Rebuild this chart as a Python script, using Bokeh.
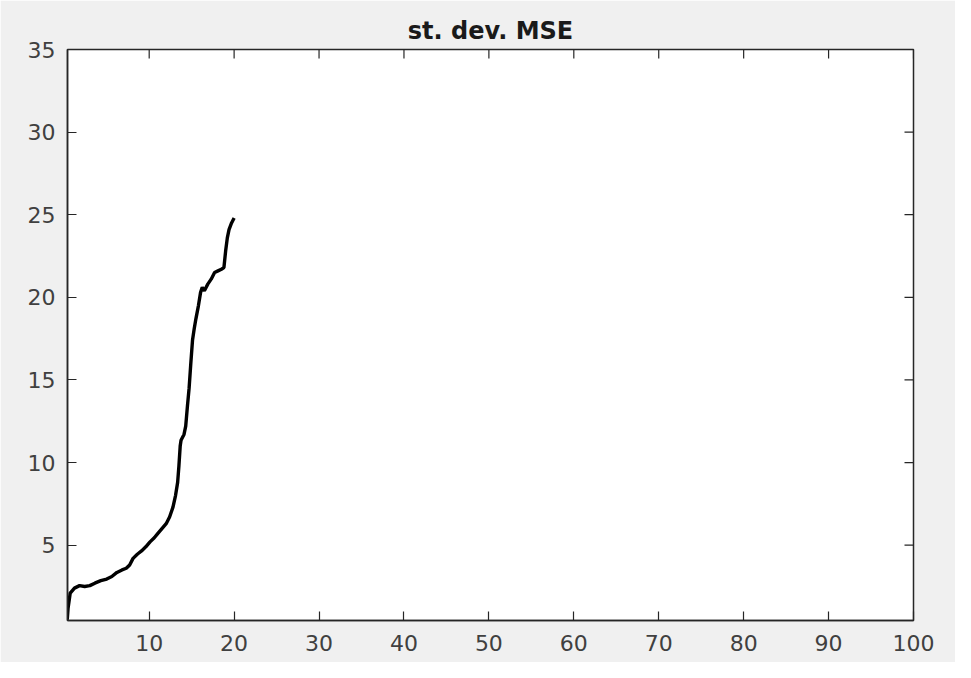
import math
from bokeh.plotting import figure
from bokeh.models import LinearAxis, FixedTicker, Range1d
from bokeh.embed import file_html
from bokeh.resources import INLINE

title_text = "st. dev. MSE"
x_vals = [0.35, 0.45, 0.7, 1.2, 1.8, 2.4, 3.0, 3.6, 4.3, 5.0, 5.6, 6.2, 6.8, 7.3, 7.7,
          8.1, 8.6, 9.1, 9.6, 10.1, 10.6, 11.0, 11.5, 12.0, 12.4, 12.8, 13.1, 13.35, 13.5,
          13.65, 13.75, 13.9, 14.1, 14.3, 14.5, 14.7, 14.9, 15.1, 15.3, 15.5, 15.8, 16.05,
          16.25, 16.5, 16.9, 17.3, 17.7, 18.1, 18.5, 18.8, 19.0, 19.2, 19.4, 19.7, 20.0]
y_vals = [0.5, 1.2, 2.1, 2.4, 2.55, 2.5, 2.55, 2.7, 2.85, 2.95, 3.1, 3.35, 3.5, 3.6, 3.8,
          4.2, 4.45, 4.65, 4.9, 5.2, 5.45, 5.7, 6.0, 6.3, 6.7, 7.3, 8.0, 8.8, 9.8,
          11.0, 11.35, 11.5, 11.7, 12.2, 13.4, 14.5, 16.0, 17.4, 18.1, 18.7, 19.5, 20.3,
          20.6, 20.4, 20.8, 21.1, 21.5, 21.6, 21.7, 21.8, 22.8, 23.6, 24.1, 24.5, 24.8]
x_ticks = [10, 20, 30, 40, 50, 60, 70, 80, 90, 100]
y_ticks = [5, 10, 15, 20, 25, 30, 35]
x_limits = (0.38, 100)
y_limits = (0.44, 35)

AX = "#262626"
p = figure(width=955, height=662, output_backend="svg", toolbar_location=None,
           x_range=Range1d(*x_limits), y_range=Range1d(*y_limits),
           x_axis_location=None, y_axis_location=None,
           min_border_left=67, min_border_right=42, min_border_top=49, min_border_bottom=42,
           background_fill_color="white", border_fill_color="#f0f0f0")
p.grid.visible = False
p.outline_line_color = AX
p.outline_line_width = 1.5

p.title.text = title_text
p.title.align = "center"
p.title.text_font = "DejaVu Sans"
p.title.text_font_size = "24px"
p.title.text_font_style = "bold"
p.title.text_color = "#1a1a1a"
p.title.standoff = 10

def mk_axis(ticks, standoff):
    ax = LinearAxis(ticker=FixedTicker(ticks=ticks))
    ax.axis_line_color = AX
    ax.axis_line_width = 1.5
    ax.major_tick_line_color = AX
    ax.major_tick_line_width = 1.2
    ax.major_tick_in = 9
    ax.major_tick_out = 0
    ax.minor_tick_line_color = None
    ax.major_label_text_font = "DejaVu Sans"
    ax.major_label_text_color = "#404040"
    ax.major_label_text_font_size = "22px"
    ax.major_label_standoff = standoff
    return ax

p.add_layout(mk_axis(x_ticks, 14), "below")
p.add_layout(mk_axis(y_ticks, 12), "left")

# inward ticks on the top and right edges of the box
p.ray(x=x_ticks, y=[y_limits[1]] * len(x_ticks), length=9, length_units="screen",
      angle=-math.pi / 2, line_color=AX, line_width=1.2)
p.ray(x=[x_limits[1]] * len(y_ticks), y=y_ticks, length=9, length_units="screen",
      angle=math.pi, line_color=AX, line_width=1.2)

p.line(x_vals, y_vals, line_color="black", line_width=3.4)

open("out.html", "w").write(file_html(p, INLINE))
